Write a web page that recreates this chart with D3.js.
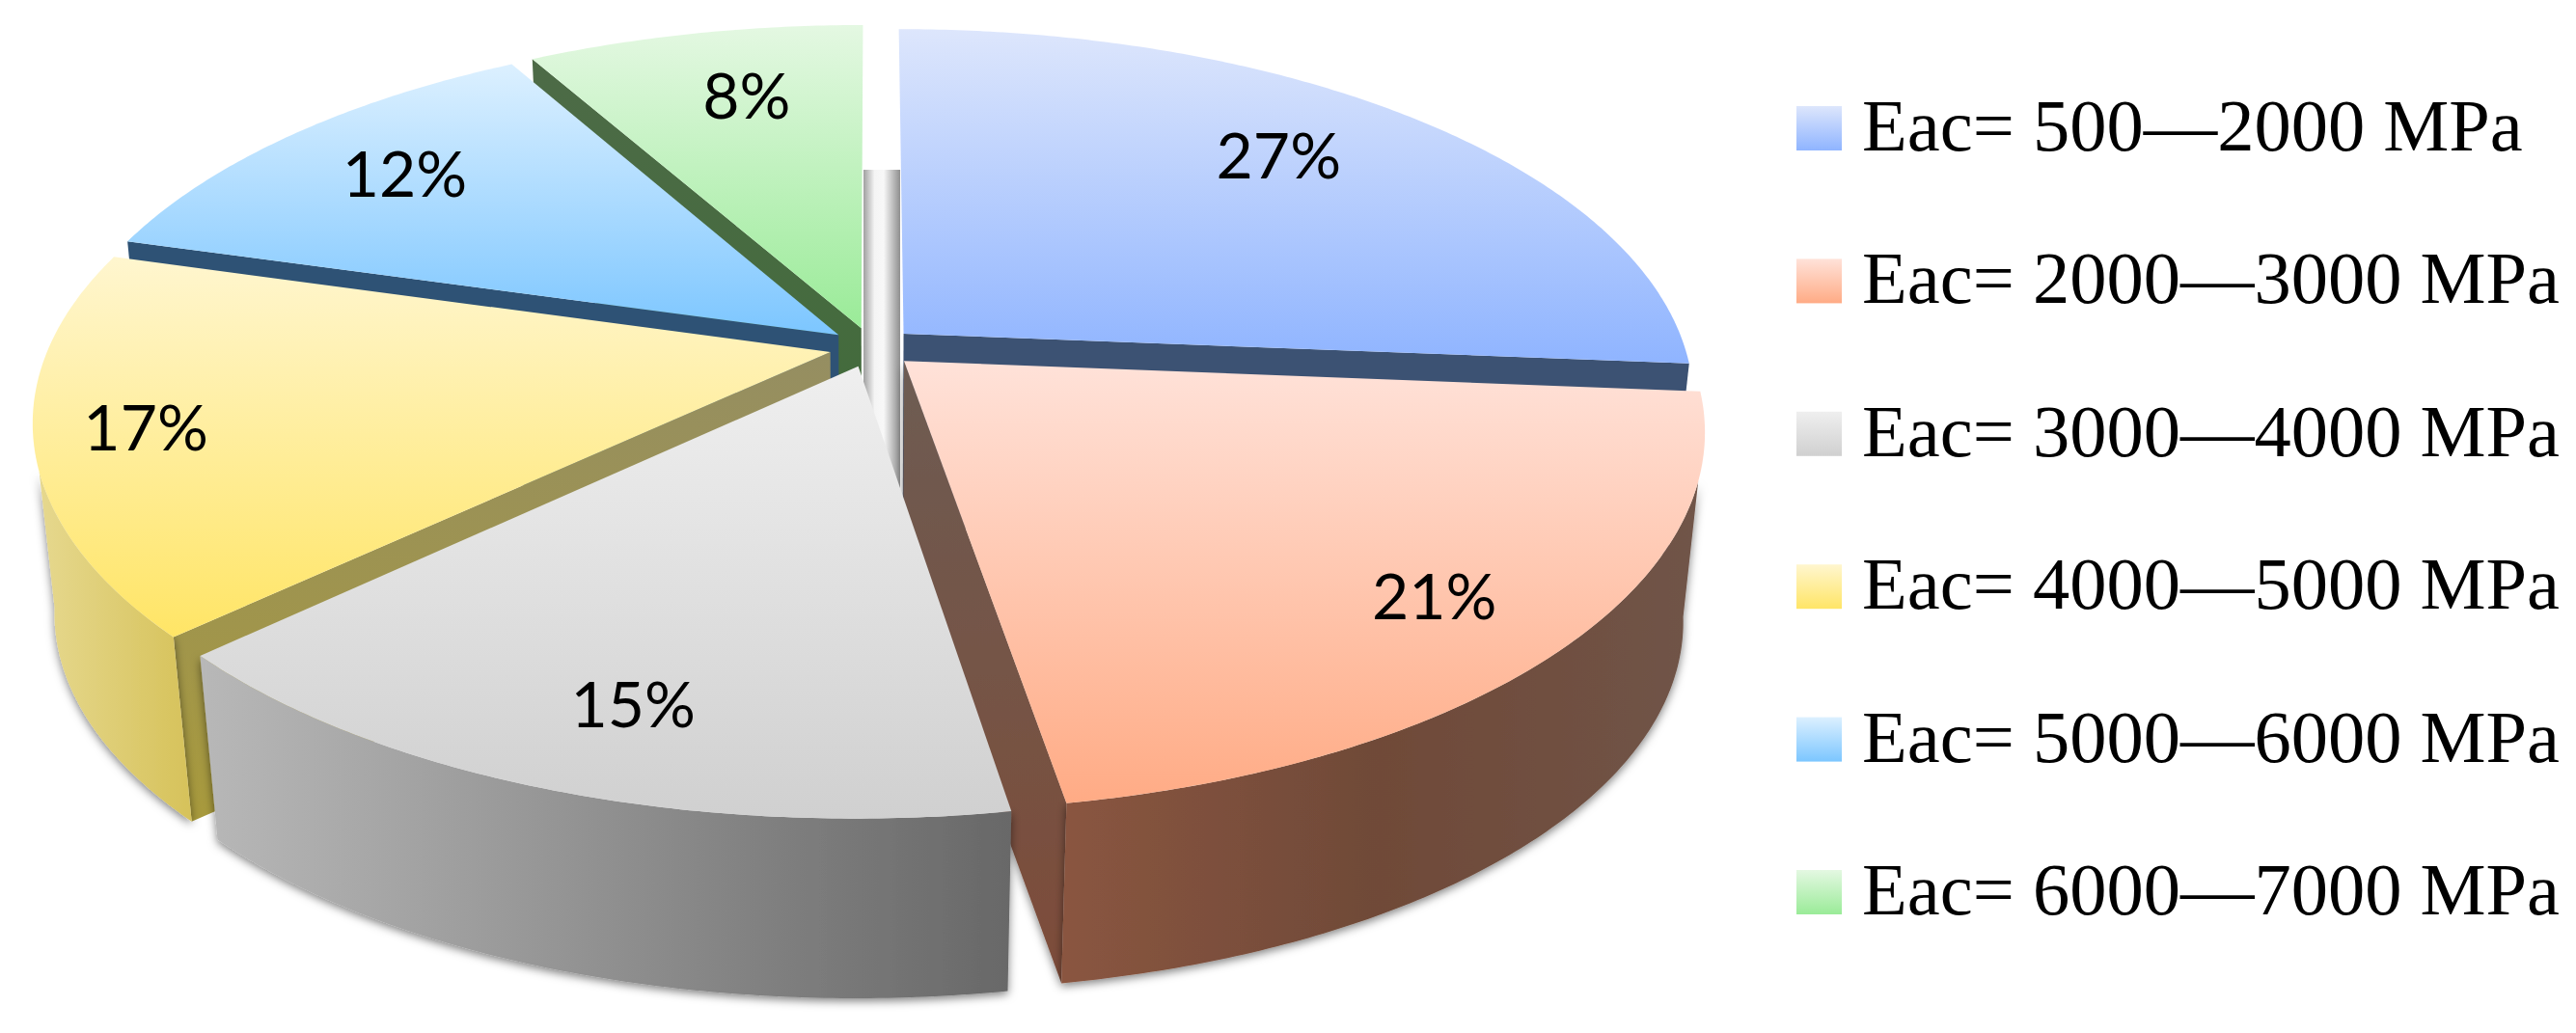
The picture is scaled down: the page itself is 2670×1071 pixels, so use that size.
<!DOCTYPE html>
<html>
<head>
<meta charset="utf-8">
<title>Eac pie</title>
<script src="https://cdnjs.cloudflare.com/ajax/libs/d3/7.8.5/d3.min.js"></script>
<style>
    html, body { margin: 0; padding: 0; background: #fff; }
    svg { display: block; }
</style>
</head>
<body>
<div id="chart"></div>
<script>
// data
var categories = ["Eac= 500\u20142000 MPa", "Eac= 2000\u20143000 MPa", "Eac= 3000\u20144000 MPa",
    "Eac= 4000\u20145000 MPa", "Eac= 5000\u20146000 MPa", "Eac= 6000\u20147000 MPa"];
var percentLabels = ["27%", "21%", "15%", "17%", "12%", "8%"];
var sliceShares = [26.3, 21.1, 15.6, 16.4, 12.4, 8.2];

// colours, per slice: top surface, side wall, cut face
var topColors = [["#dde6fc", "#8fb4ff"], ["#ffe2d9", "#ffab85"], ["#efefef", "#d0d0d0"],
    ["#fff6cf", "#ffe566"], ["#dcf0ff", "#7cc6ff"], ["#e4f8e2", "#9aeb98"]];
var wallColors = [["#3c5273", "#3c5273"], ["#8a5540", "#6f4a38", "#6f5448"], ["#b8b8b8", "#686868"],
    ["#e6d88e", "#d6c25a"], ["#2f5578", "#2f5578"], ["#46693f", "#46693f"]];
var cutColors = [["#3c5273", "#3c5273"], ["#6d5c53", "#7d4c39"], ["#888888", "#777777"],
    ["#958e62", "#a89a3c"], ["#2e5275", "#2e5275"], ["#4d6b47", "#3f6b38"]];

var width = 2670,
    height = 1071;

// perspective of the tilted disc
var cx = 904, cy = 360,
    rx = 810, ry = 377,
    persp = 0.179,
    lowerScale = 0.974,
    depth = 199,
    explode = 0.055;

var labelRadius = [0.818, 0.885, 0.875, 0.919, 0.837, 0.809];
var labelTurn = [-2.74, 0.94, -1.42, 0.38, 0.44, 1.66];
var drawOrder = [5, 4, 0, 3, 1, 2];

var svg = d3.select("#chart").append("svg")
    .attr("width", width)
    .attr("height", height);

var defs = svg.append("defs");

function addGradient(id, colors, horizontal) {
    var g = defs.append("linearGradient").attr("id", id)
        .attr("x1", 0).attr("y1", 0)
        .attr("x2", horizontal ? 1 : 0).attr("y2", horizontal ? 0 : 1);
    colors.forEach(function (c, i) {
        g.append("stop").attr("offset", i / (colors.length - 1)).attr("stop-color", c);
    });
}

topColors.forEach(function (c, i) { addGradient("top" + i, c, false); });
wallColors.forEach(function (c, i) { addGradient("wall" + i, c, true); });
cutColors.forEach(function (c, i) { addGradient("cut" + i, c, false); });

var gapGrad = defs.append("linearGradient").attr("id", "gapShade");
[[0, "#a0a0a0"], [0.3, "#f4f4f4"], [0.55, "#f8f8f8"], [1, "#8f8f8f"]].forEach(function (s) {
    gapGrad.append("stop").attr("offset", s[0]).attr("stop-color", s[1]);
});

var shadow = defs.append("filter").attr("id", "softShadow")
    .attr("filterUnits", "userSpaceOnUse")
    .attr("x", 0).attr("y", 0).attr("width", width).attr("height", height);
shadow.append("feDropShadow")
    .attr("dx", 0).attr("dy", 3)
    .attr("stdDeviation", 5)
    .attr("flood-color", "#000")
    .attr("flood-opacity", 0.5);

var pie = d3.pie().sort(null).value(function (d) { return d; });
var slices = pie(sliceShares);

function project(u, v, lower) {
    var w = 1 + persp * v;
    var x = rx * u / w,
        y = -ry * v / w;
    if (lower) {
        return [cx + x * lowerScale, cy + y * lowerScale + depth];
    }
    return [cx + x, cy + y];
}

var line = d3.line();

function rimPoints(d, a0, a1, lower) {
    var mid = (d.startAngle + d.endAngle) / 2;
    var ox = explode * Math.sin(mid),
        oy = explode * Math.cos(mid);
    var n = Math.max(2, Math.ceil((a1 - a0) / 0.01));
    return d3.range(n + 1).map(function (k) {
        var a = a0 + (a1 - a0) * k / n;
        return project(ox + Math.sin(a), oy + Math.cos(a), lower);
    });
}

function apex(d, lower) {
    var mid = (d.startAngle + d.endAngle) / 2;
    return project(explode * Math.sin(mid), explode * Math.cos(mid), lower);
}

function rad(deg) { return deg * Math.PI / 180; }

// the shaded gap between the first and the last slice
var gapScale = d3.scaleLinear().domain([0, 1]).range([895, 933]);
svg.append("rect")
    .attr("x", gapScale(0))
    .attr("y", 176)
    .attr("width", gapScale(1) - gapScale(0))
    .attr("height", 330)
    .attr("fill", "url(#gapShade)");

// visible outline of the walls, the lower rim turns a bit further out than the top one
var frontTop = [rad(108), rad(252)],
    frontLow = [rad(100), rad(260)];

drawOrder.forEach(function (i) {
    var d = slices[i];
    var g = svg.append("g").attr("class", "slice");

    // cut faces, the viewer only sees the end edge on the right and the start edge on the left
    var cutAngle = d.endAngle < Math.PI * 1.1 ? d.endAngle : d.startAngle;
    if (i !== 2) {
        var pts = [apex(d, false)]
            .concat(rimPoints(d, cutAngle, cutAngle, false).slice(0, 1))
            .concat(rimPoints(d, cutAngle, cutAngle, true).slice(0, 1))
            .concat([apex(d, true)]);
        g.append("path")
            .attr("d", line(pts) + "Z")
            .attr("fill", "url(#cut" + i + ")")
            .attr("filter", i === 1 ? "url(#softShadow)" : null);
    }

    // outer wall, only the part that faces the viewer
    var a0 = Math.max(d.startAngle, frontTop[0]),
        a1 = Math.min(d.endAngle, frontTop[1]),
        b0 = Math.max(d.startAngle, frontLow[0]),
        b1 = Math.min(d.endAngle, frontLow[1]);
    if (a1 > a0) {
        var wall = rimPoints(d, a0, a1, false).concat(rimPoints(d, b0, b1, true).reverse());
        g.append("path")
            .attr("d", line(wall) + "Z")
            .attr("fill", "url(#wall" + i + ")")
            .attr("filter", "url(#softShadow)");
    }

    // top surface
    var top = [apex(d, false)].concat(rimPoints(d, d.startAngle, d.endAngle, false));
    g.append("path")
        .attr("d", line(top) + "Z")
        .attr("fill", "url(#top" + i + ")");
});

// percent labels
svg.append("g").selectAll("text")
    .data(slices)
    .enter().append("text")
    .attr("transform", function (d, i) {
        var a = (d.startAngle + d.endAngle) / 2 + rad(labelTurn[i]);
        var p = project(labelRadius[i] * Math.sin(a), labelRadius[i] * Math.cos(a), false);
        return "translate(" + p[0] + "," + p[1] + ")";
    })
    .attr("text-anchor", "middle")
    .attr("dy", "0.36em")
    .style("font-family", "Lato, 'Open Sans', sans-serif")
    .style("font-size", "66px")
    .style("fill", "#000")
    .text(function (d, i) { return percentLabels[i]; });

// legend
var legendY = d3.scalePoint().domain(categories).range([156, 948]);

var legend = svg.append("g").selectAll("g")
    .data(categories)
    .enter().append("g")
    .attr("transform", function (d) { return "translate(1862," + legendY(d) + ")"; });

legend.append("rect")
    .attr("x", 0)
    .attr("y", -46)
    .attr("width", 47)
    .attr("height", 46)
    .attr("fill", function (d, i) { return "url(#top" + i + ")"; });

legend.append("text")
    .attr("x", 68)
    .attr("y", 0)
    .style("font-family", "'Liberation Serif', serif")
    .style("font-size", "76.5px")
    .style("fill", "#000")
    .text(function (d) { return d; });
</script>
</body>
</html>
